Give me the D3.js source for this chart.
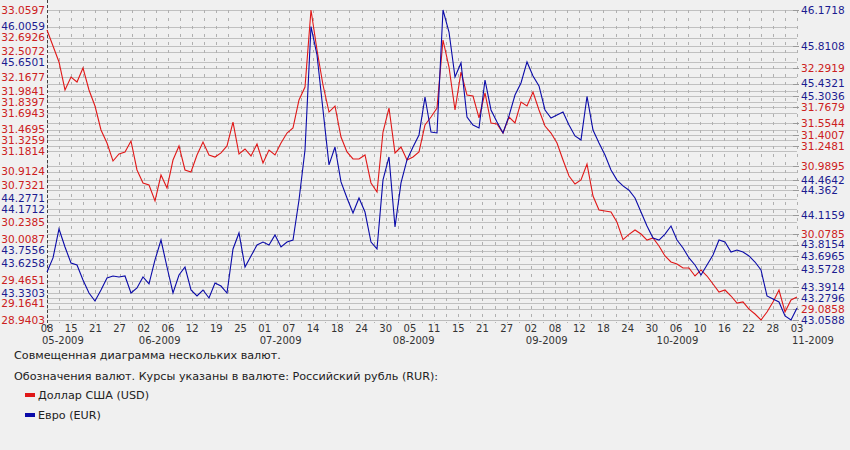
<!DOCTYPE html>
<html><head><meta charset="utf-8">
<script src="https://cdn.jsdelivr.net/npm/d3@7"></script>
<style>
body{margin:0;background:#f0f0f0;}
svg{display:block;font-family:"DejaVu Sans",Verdana,sans-serif;}
</style>
</head><body>
<svg id="c" width="850" height="450"></svg>
<script>
// USD -> RUR rates (red), EUR -> RUR rates (blue), one value per trading day
const usd = [32.794,32.581,32.369,31.997,32.169,32.103,32.289,31.997,31.784,31.465,
31.292,31.053,31.146,31.173,31.319,30.934,30.761,30.734,30.522,30.867,
30.694,31.066,31.253,30.934,30.907,31.133,31.306,31.133,31.106,31.160,
31.253,31.571,31.146,31.213,31.120,31.279,31.027,31.199,31.133,31.292,
31.425,31.492,31.864,32.036,33.0597,32.528,32.063,31.704,31.784,31.372,
31.173,31.080,31.080,31.133,30.761,30.641,31.438,31.757,31.160,31.239,
31.066,31.106,31.173,31.532,31.638,31.757,32.661,32.302,31.731,32.236,
31.930,31.917,31.625,31.957,31.558,31.545,31.425,31.638,31.558,31.837,
31.784,31.970,31.731,31.518,31.425,31.292,31.066,30.854,30.748,30.801,
31.013,30.588,30.402,30.389,30.375,30.2385,30.0087,30.0785,30.136,30.083,
30.003,30.030,29.924,29.791,29.711,29.684,29.631,29.631,29.525,29.605,
29.525,29.419,29.312,29.339,29.259,29.1641,29.180,29.0858,29.020,28.9403,
29.047,29.180,29.339,29.047,29.206,29.246];
const eur = [43.541,43.682,43.973,43.792,43.631,43.611,43.461,43.330,43.250,43.360,
43.481,43.501,43.491,43.501,43.330,43.380,43.491,43.421,43.662,43.862,
43.591,43.330,43.511,43.591,43.360,43.300,43.360,43.280,43.431,43.400,
43.330,43.772,43.933,43.591,43.702,43.812,43.842,43.812,43.913,43.792,
43.842,43.862,44.264,44.766,46.0059,45.720,45.168,44.616,44.796,44.445,
44.284,44.133,44.284,44.143,43.842,43.772,44.465,44.696,43.993,44.435,
44.666,44.796,44.917,45.298,44.947,44.937,46.1718,45.951,45.499,45.640,
45.097,45.017,44.987,45.469,45.168,45.047,44.937,45.108,45.318,45.439,
45.6501,45.509,45.409,45.168,45.087,45.118,45.148,45.017,44.907,44.867,
45.3036,44.967,44.836,44.716,44.565,44.4642,44.405,44.362,44.284,44.143,
44.003,43.882,43.862,43.922,44.003,43.862,43.782,43.682,43.611,43.511,
43.611,43.712,43.862,43.842,43.742,43.762,43.742,43.702,43.641,43.561,
43.300,43.270,43.240,43.099,43.0588,43.180];

// axis tick labels
const leftUsdTicks = [33.0597,32.6926,32.5072,32.1677,31.9841,31.8397,31.6943,31.4695,31.3259,31.1814,30.9124,30.7321,30.2385,30.0087,29.4651,29.1641,28.9403];
const leftEurTicks = [46.0059,45.6501,44.2771,44.1712,43.7556,43.6258,43.3303];
const rightUsdTicks = [32.2919,31.7679,31.5544,31.4007,31.2481,30.9895,30.0785,29.0858];
const rightEurTicks = [46.1718,45.8108,45.4321,45.3036,44.4642,44.362,44.1159,43.8154,43.6965,43.5728,43.3914,43.2796,43.0588];
const dayLabels = ["08","15","21","27","02","06","12","19","25","01","07","14","18","24","30","05","11","15","21","27","02","08","12","18","24","30","06","10","16","22","28","03"];
const monthLabels = ["05-2009","06-2009","07-2009","08-2009","09-2009","10-2009","11-2009"];
const monthPos = [0,4,9,14.5,20,25.4,31];  // position on the day-label axis
const title1 = "Совмещенная диаграмма нескольких валют.";
const title2 = "Обозначения валют. Курсы указаны в валюте: Российский рубль (RUR):";
const seriesNames = ["Доллар США (USD)","Евро (EUR)"];

const RED = "#e01818", BLUE = "#0a0aa8", RED_T = "#cc2020", BLUE_T = "#1c1c90";
const L = 47, R = 797, T = 10, B = 320;

const svg = d3.select("#c");
svg.append("rect").attr("width",850).attr("height",450).attr("fill","#f0f0f0");

const x = d3.scaleLinear().domain([0, usd.length-1]).range([L, R]);
const xl = d3.scaleLinear().domain([0, dayLabels.length-1]).range([L, R]);
const yU = d3.scaleLinear().domain([d3.min(usd), d3.max(usd)]).range([B, T]);
const yE = d3.scaleLinear().domain([d3.min(eur), d3.max(eur)]).range([B, T]);

// horizontal grid lines at every tick
const gridY = [...leftUsdTicks.map(yU), ...rightUsdTicks.map(yU), ...leftEurTicks.map(yE), ...rightEurTicks.map(yE)];
svg.append("g").selectAll("line").data(gridY).join("line")
  .attr("x1",L).attr("x2",R).attr("y1",d=>Math.round(d)+0.5).attr("y2",d=>Math.round(d)+0.5)
  .attr("stroke","#c0c0c0").attr("stroke-width",1);

// vertical dashed grid lines (half label steps)
const vpos = d3.range(0, dayLabels.length-1+0.01, 0.5);
svg.append("g").selectAll("line").data(vpos).join("line")
  .attr("x1",d=>Math.round(xl(d))+0.5).attr("x2",d=>Math.round(xl(d))+0.5)
  .attr("y1",T).attr("y2",B+3)
  .attr("stroke","#b0b0b0").attr("stroke-dasharray","3,5");

// bottom baseline
svg.append("line").attr("x1",L).attr("x2",R).attr("y1",B+0.5).attr("y2",B+0.5).attr("stroke","#bcbcbc");

// left axis dashed line
svg.append("line").attr("x1",L+0.5).attr("x2",L+0.5).attr("y1",0).attr("y2",B+8)
  .attr("stroke","#444").attr("stroke-dasharray","3,2");
// right ticks
svg.append("g").selectAll("line").data([...rightUsdTicks.map(yU), ...rightEurTicks.map(yE)]).join("line")
  .attr("x1",R-4).attr("x2",R+2).attr("y1",d=>Math.round(d)+0.5).attr("y2",d=>Math.round(d)+0.5)
  .attr("stroke","#999");

// y labels
const yLab = (vals, sc, color, xpos, anchor) =>
  svg.append("g").selectAll("text").data(vals).join("text")
    .attr("x",xpos).attr("y",d=>sc(d)).attr("dy","0.36em")
    .attr("text-anchor",anchor).attr("font-size","10.6px").attr("fill",color)
    .text(d=>d.toString());
yLab(leftUsdTicks, yU, RED_T, 45, "end");
yLab(leftEurTicks, yE, BLUE_T, 45, "end");
yLab(rightUsdTicks, yU, RED_T, 801, "start");
yLab(rightEurTicks, yE, BLUE_T, 801, "start");

// x labels
svg.append("g").selectAll("text").data(dayLabels).join("text")
  .attr("x",(d,i)=>xl(i)).attr("y",331.5).attr("text-anchor","middle")
  .attr("font-size","10px").attr("fill","#333").text(d=>d);
svg.append("g").selectAll("text").data(monthLabels).join("text")
  .attr("x",(d,i)=>xl(monthPos[i])-5).attr("y",343.5).attr("text-anchor","start")
  .attr("font-size","10px").attr("fill","#333").text(d=>d);

// lines
const lineU = d3.line().x((d,i)=>x(i)).y(d=>yU(d));
const lineE = d3.line().x((d,i)=>x(i)).y(d=>yE(d));
svg.append("path").attr("d",lineU(usd)).attr("fill","none").attr("stroke",RED).attr("stroke-width",1.1);
svg.append("path").attr("d",lineE(eur)).attr("fill","none").attr("stroke",BLUE).attr("stroke-width",1.1);

// texts
svg.append("text").attr("x",14).attr("y",359).attr("font-size","11.2px").attr("fill","#222").text(title1);
svg.append("text").attr("x",14).attr("y",380).attr("font-size","11.2px").attr("fill","#222").text(title2);
const leg = svg.append("g").selectAll("g").data(seriesNames).join("g")
  .attr("transform",(d,i)=>`translate(0,${395+i*20})`);
leg.append("rect").attr("x",25).attr("y",-2).attr("width",10).attr("height",4)
  .attr("fill",(d,i)=>i===0?RED:BLUE);
leg.append("text").attr("x",38).attr("y",4).attr("font-size","11.2px").attr("fill","#222").text(d=>d);
</script>
</body></html>
